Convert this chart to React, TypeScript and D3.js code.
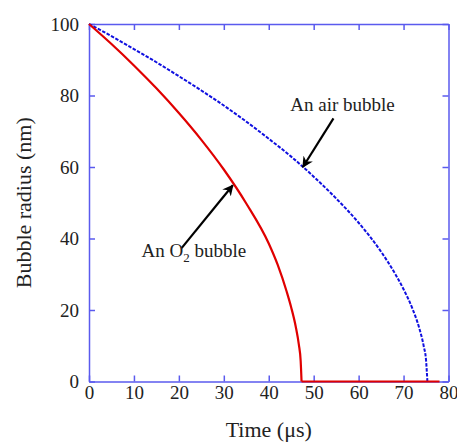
import * as d3 from 'd3';
import { useRef, useEffect } from 'react';

// VALUES
const o2Time = [0, 5, 10, 15, 20, 25, 30, 35, 40, 42, 44, 45, 46, 46.7, 47.1, 47.3];
const o2Radius = [100, 94.4, 88.4, 82.0, 75.1, 67.6, 59.3, 49.8, 38.6, 32.6, 25.1, 20.7, 15.4, 10.3, 5.8, 0];
const o2Tail = [47.3, 78];

const airTime = [0, 5, 10, 15, 20, 25, 30, 35, 40, 45, 50, 55, 60, 65, 68, 70, 72, 73.5, 74.5, 75, 75.3];
const airRadius = [100, 96.6, 93.0, 89.3, 85.4, 81.4, 77.2, 72.7, 67.9, 62.9, 57.3, 51.2, 44.4, 36.3, 30.4, 25.8, 20.3, 14.9, 9.8, 6.0, 0];

const xTicks = [0, 10, 20, 30, 40, 50, 60, 70, 80];
const yTicks = [0, 20, 40, 60, 80, 100];

const width = 457;
const height = 446;
const margin = { top: 24, right: 8.5, bottom: 64.5, left: 89 };
const frameColor = '#5a5aee';
const font = '"Liberation Serif", "Times New Roman", serif';

function App() {
  const svgRef = useRef<SVGSVGElement>(null);

  useEffect(() => {
    const svg = d3.select(svgRef.current);
    svg.selectAll('*').remove();

    const xScale = d3.scaleLinear().domain([0, 80]).range([margin.left, width - margin.right]);
    const yScale = d3.scaleLinear().domain([0, 100]).range([height - margin.bottom, margin.top]);

    // Axes: ticks point inward on all four sides
    const styleAxis = (g: any) => {
      g.select('.domain').attr('stroke', frameColor).attr('stroke-width', 1.5);
      g.selectAll('.tick line').attr('stroke', frameColor).attr('stroke-width', 1.5);
      g.selectAll('.tick text')
        .attr('fill', '#222')
        .style('font-family', font)
        .style('font-size', '19px');
    };

    svg.append('g')
      .attr('transform', `translate(0, ${yScale(0)})`)
      .call(d3.axisBottom(xScale).tickValues(xTicks).tickSizeInner(-6).tickSizeOuter(0).tickPadding(4.5))
      .call(styleAxis);

    svg.append('g')
      .attr('transform', `translate(0, ${yScale(100)})`)
      .call(d3.axisTop(xScale).tickValues(xTicks).tickSizeInner(-6).tickSizeOuter(0).tickFormat(() => ''))
      .call(styleAxis);

    svg.append('g')
      .attr('transform', `translate(${xScale(0)}, 0)`)
      .call(d3.axisLeft(yScale).tickValues(yTicks).tickSizeInner(-6).tickSizeOuter(0).tickPadding(10))
      .call(styleAxis);

    svg.append('g')
      .attr('transform', `translate(${xScale(80)}, 0)`)
      .call(d3.axisRight(yScale).tickValues(yTicks).tickSizeInner(-6).tickSizeOuter(0).tickFormat(() => ''))
      .call(styleAxis);

    // Curves
    const line = d3.line<[number, number]>()
      .x((d) => xScale(d[0]))
      .y((d) => yScale(d[1]))
      .curve(d3.curveMonotoneX);

    svg.append('path')
      .datum(airTime.map((t, i) => [t, airRadius[i]] as [number, number]))
      .attr('d', line)
      .attr('fill', 'none')
      .attr('stroke', '#1010e0')
      .attr('stroke-width', 2)
      .attr('stroke-dasharray', '3.5,1.5');

    svg.append('path')
      .datum(o2Time.map((t, i) => [t, o2Radius[i]] as [number, number]))
      .attr('d', line)
      .attr('fill', 'none')
      .attr('stroke', '#e00000')
      .attr('stroke-width', 2.2);

    svg.append('path')
      .datum(o2Tail.map((t) => [t, 0] as [number, number]))
      .attr('d', d3.line<[number, number]>().x((d) => xScale(d[0])).y((d) => yScale(d[1])))
      .attr('fill', 'none')
      .attr('stroke', '#e00000')
      .attr('stroke-width', 2.2);

    // Arrow marker
    svg.append('defs')
      .append('marker')
      .attr('id', 'arrowHead')
      .attr('viewBox', '0 0 10 10')
      .attr('refX', 9)
      .attr('refY', 5)
      .attr('markerWidth', 5)
      .attr('markerHeight', 5)
      .attr('markerUnits', 'strokeWidth')
      .attr('orient', 'auto')
      .append('path')
      .attr('d', 'M0,0 L10,5 L0,10 L3,5 Z')
      .attr('fill', '#000');

    const arrows = [
      { from: [54.4, 73.6], to: [47.6, 60.0] },
      { from: [20.6, 37.3], to: [32.0, 54.9] },
    ];
    arrows.forEach((a) => {
      svg.append('line')
        .attr('x1', xScale(a.from[0]))
        .attr('y1', yScale(a.from[1]))
        .attr('x2', xScale(a.to[0]))
        .attr('y2', yScale(a.to[1]))
        .attr('stroke', '#000')
        .attr('stroke-width', 2.2)
        .attr('marker-end', 'url(#arrowHead)');
    });

    // Annotation labels
    svg.append('text')
      .attr('x', xScale(44.8))
      .attr('y', yScale(75.7))
      .style('font-family', font)
      .style('font-size', '19px')
      .attr('fill', '#222')
      .text('An air bubble');

    const o2 = svg.append('text')
      .attr('x', xScale(11.7))
      .attr('y', yScale(34.9))
      .style('font-family', font)
      .style('font-size', '19px')
      .attr('fill', '#222');
    o2.append('tspan').text('An O');
    o2.append('tspan').style('font-size', '13px').attr('dy', 5).text('2');
    o2.append('tspan').attr('dy', -5).text(' bubble');

    // Axis titles
    svg.append('text')
      .attr('x', (xScale(0) + xScale(80)) / 2)
      .attr('y', 437)
      .attr('text-anchor', 'middle')
      .style('font-family', font)
      .style('font-size', '22px')
      .attr('fill', '#222')
      .text('Time (μs)');

    svg.append('text')
      .attr('transform', `translate(31, ${(yScale(0) + yScale(100)) / 2}) rotate(-90)`)
      .attr('text-anchor', 'middle')
      .style('font-family', font)
      .style('font-size', '22px')
      .attr('fill', '#222')
      .text('Bubble radius (nm)');
  }, []);

  return (
    <svg
      ref={svgRef}
      width={width}
      height={height}
      style={{ position: 'absolute', left: 0, top: 0, background: '#fff' }}
    />
  );
}

export default App;
